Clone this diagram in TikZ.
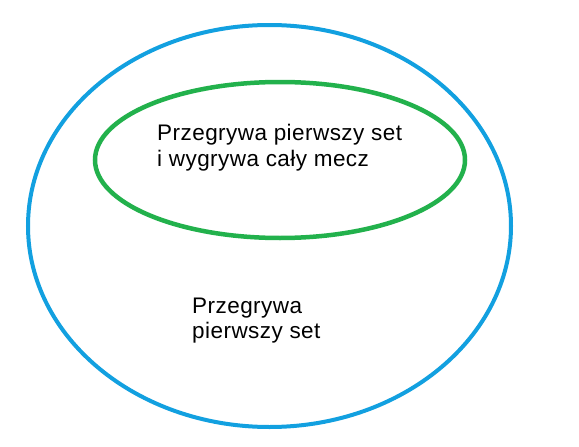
\documentclass[tikz,border=0pt]{standalone}
\usepackage{fontspec}
\setmainfont{Liberation Sans}[LetterSpace=2]
\definecolor{setblue}{HTML}{12A0E0}
\definecolor{setgreen}{HTML}{22B14C}
\begin{document}
\begin{tikzpicture}[x=1pt,y=-1pt,
  lbl/.style={anchor=base west,inner sep=0pt,font=\fontsize{22.5}{26}\selectfont,text=black}]
\useasboundingbox (0,0) rectangle (579,447);
\fill[white] (0,0) rectangle (579,447);
\draw[setblue,line width=4pt] (269.5,226) ellipse [x radius=241.5pt, y radius=201pt];
\draw[setgreen,line width=4.5pt] (280,160) ellipse [x radius=185pt, y radius=78pt];
\node[lbl] (a1) at (157,140) {Przegrywa pierwszy set};
\node[lbl] (a2) at (157,166) {i wygrywa cały mecz};
\node[lbl] (b1) at (192,313) {Przegrywa};
\node[lbl] (b2) at (192,338) {pierwszy set};
\end{tikzpicture}
\end{document}
